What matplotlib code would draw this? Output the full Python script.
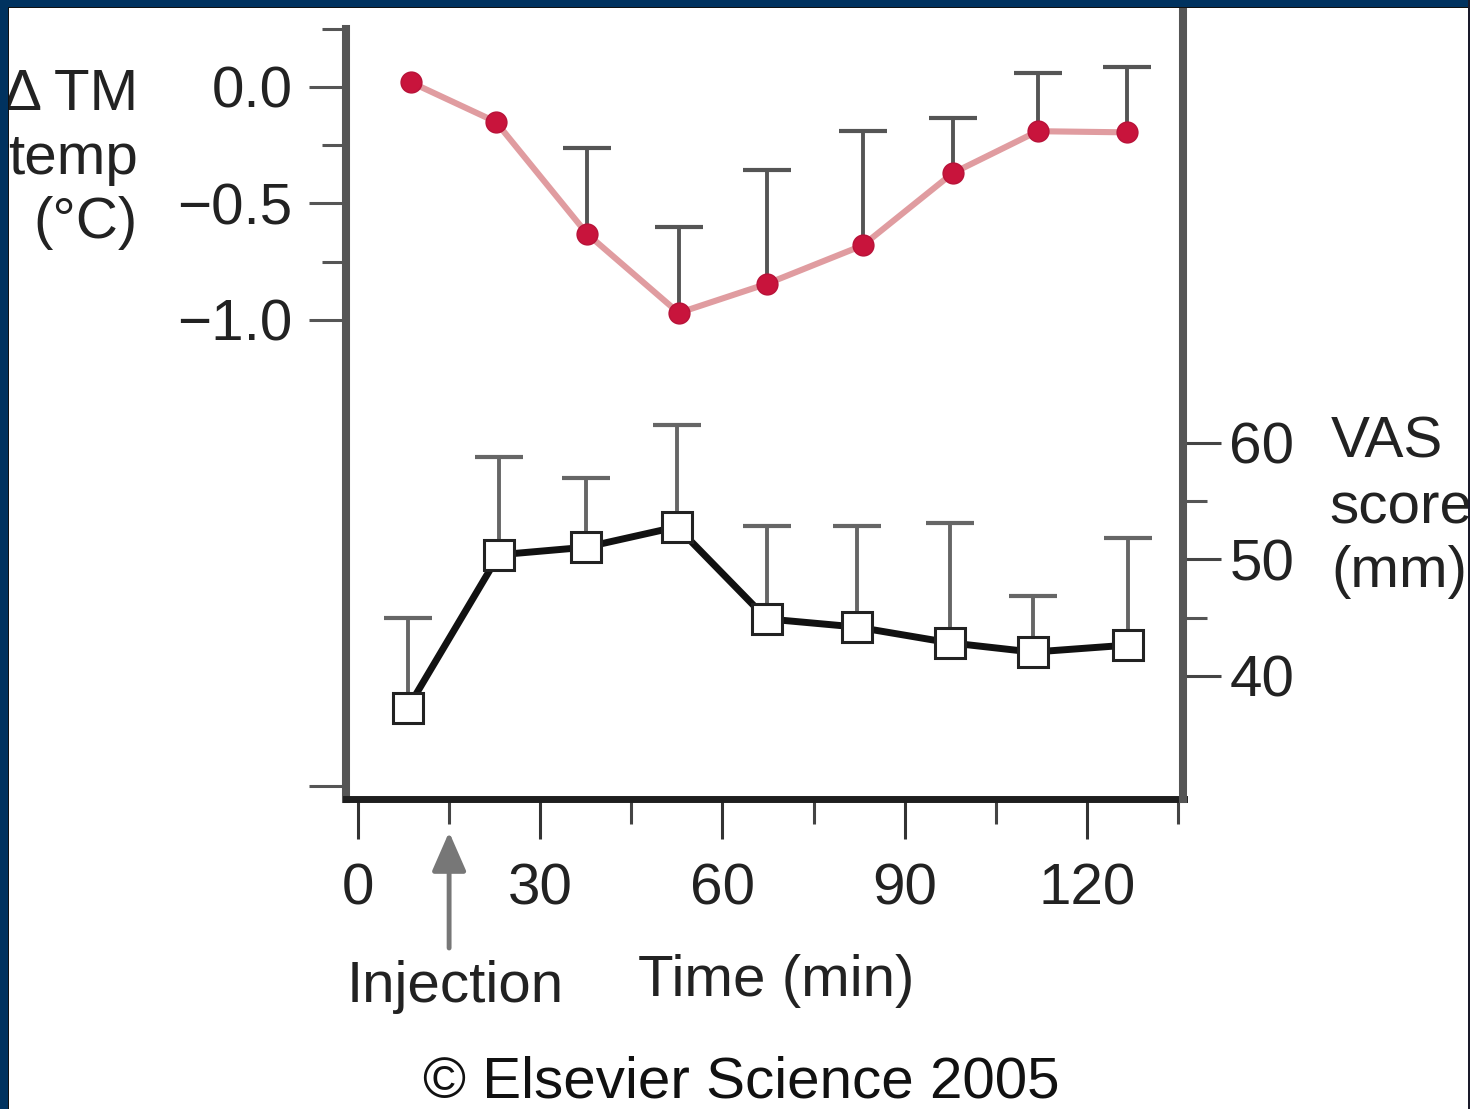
import matplotlib
matplotlib.use("Agg")
import matplotlib.pyplot as plt
from matplotlib.patches import Rectangle

plt.rcParams['font.family'] = ['Liberation Sans', 'DejaVu Sans']

# ---------------- data ----------------
temp_time = [8.7, 22.7, 37.7, 52.8, 67.3, 83.1, 97.9, 111.9, 126.6]
temp_mean = [0.02, -0.15, -0.63, -0.97, -0.845, -0.68, -0.37, -0.19, -0.195]
temp_err_up = [0.0, 0.0, 0.37, 0.37, 0.49, 0.49, 0.235, 0.25, 0.28]

vas_time = [8.2, 23.2, 37.5, 52.5, 67.3, 82.1, 97.4, 111.1, 126.7]
vas_mean = [37.25, 50.4, 51.05, 52.8, 44.9, 44.2, 42.85, 42.05, 42.65]
vas_err_up = [7.7, 8.4, 5.95, 8.75, 8.0, 8.7, 10.3, 4.8, 9.2]

x_major = [0, 30, 60, 90, 120]
x_major_labels = ['0', '30', '60', '90', '120']
x_minor = [15, 45, 75, 105, 135]

temp_major = [0.0, -0.5, -1.0, -3.0]
temp_major_labels = ['0.0', '\u22120.5', '\u22121.0', '']
temp_minor = [0.25, -0.25, -0.75]

vas_major = [40, 50, 60]
vas_major_labels = ['40', '50', '60']
vas_minor = [45, 55]

injection_time = 15

# ---------------- figure ----------------
W, H = 1470, 1109
fig = plt.figure(figsize=(W / 100, H / 100), dpi=100)
fig.patch.set_facecolor('white')

def fx(x):
    return x / W

def fy(y):
    return 1 - y / H

ax_l, ax_r, ax_b, ax_t = 346, 1183.5, 799, 7
ax = fig.add_axes([fx(ax_l), fy(ax_b), (ax_r - ax_l) / W, (ax_b - ax_t) / H])
ax.set_facecolor('none')
ax2 = ax.twinx()

ax.set_xlim(-1.975, 135.9)
ax.set_ylim(-3.056, 0.343)
ax2.set_ylim(29.44, 97.42)

TXT = '#222222'
FS = 42

# spines
for s in ['top', 'right']:
    ax.spines[s].set_visible(False)
for s in ['top', 'left', 'bottom']:
    ax2.spines[s].set_visible(False)
ax.spines['left'].set_color('#555555')
ax.spines['left'].set_linewidth(5.8)
ax.spines['left'].set_bounds(-3.056, 0.25)
ax.spines['bottom'].set_color('#1e1e1e')
ax.spines['bottom'].set_linewidth(5.0)
ax.spines['bottom'].set_capstyle('projecting')
ax2.spines['right'].set_color('#555555')
ax2.spines['right'].set_linewidth(5.8)

# x ticks
ax.set_xticks(x_major)
ax.set_xticklabels(x_major_labels)
ax.set_xticks(x_minor, minor=True)
ax.tick_params(axis='x', which='major', direction='out', length=29, width=2.2,
               color='#333333', labelsize=FS, labelcolor=TXT, pad=17)
ax.tick_params(axis='x', which='minor', direction='out', length=18, width=2.2,
               color='#444444')

# left y ticks
ax.set_yticks(temp_major)
ax.set_yticklabels(temp_major_labels)
ax.set_yticks(temp_minor, minor=True)
ax.tick_params(axis='y', which='major', direction='out', length=26.5, width=2.2,
               color='#555555', labelsize=FS, labelcolor=TXT, pad=12)
ax.tick_params(axis='y', which='minor', direction='out', length=17, width=2.2,
               color='#555555')

# right y ticks
ax2.set_yticks(vas_major)
ax2.set_yticklabels(vas_major_labels)
ax2.set_yticks(vas_minor, minor=True)
ax2.tick_params(axis='y', which='major', direction='out', length=27, width=2.2,
                color='#444444', labelsize=FS, labelcolor=TXT, pad=6)
ax2.tick_params(axis='y', which='minor', direction='out', length=17, width=2.2,
                color='#555555')

# ---------------- temperature series ----------------
t_sel = [i for i, e in enumerate(temp_err_up) if e > 0]
eb = ax.errorbar([temp_time[i] for i in t_sel], [temp_mean[i] for i in t_sel],
                 yerr=[[0] * len(t_sel), [temp_err_up[i] for i in t_sel]],
                 fmt='none', ecolor='#555555', elinewidth=2.8, capsize=17,
                 capthick=3, zorder=2)
caps = eb.lines[1]
caps[0].set_visible(False)
for c in caps[1:]:
    c.set_color('#333333')
ax.plot(temp_time, temp_mean, '-', color='#e09ca0', lw=4.4, zorder=3,
        solid_capstyle='round')
ax.plot(temp_time, temp_mean, 'o', color='#c8143c', ms=15, mec='#b81238',
        mew=1, zorder=4, linestyle='none')

# ---------------- VAS series ----------------
eb2 = ax2.errorbar(vas_time, vas_mean, yerr=[[0] * len(vas_mean), vas_err_up],
                   fmt='none', ecolor='#666666', elinewidth=2.8, capsize=17,
                   capthick=3, zorder=2)
caps2 = eb2.lines[1]
caps2[0].set_visible(False)
for c in caps2[1:]:
    c.set_color('#333333')
ax2.plot(vas_time, vas_mean, '-', color='#111111', lw=5, zorder=3)
ax2.plot(vas_time, vas_mean, 's', mfc='white', mec='#222222', ms=21, mew=2.2,
         zorder=4, linestyle='none')

# ---------------- injection arrow ----------------
ax.annotate('', xy=(injection_time, fy(832)), xycoords=('data', 'figure fraction'),
            xytext=(injection_time, fy(948)), textcoords=('data', 'figure fraction'),
            arrowprops=dict(arrowstyle='-|>,head_length=0.8,head_width=0.35',
                            mutation_scale=30, color='#777777', lw=3.5,
                            shrinkA=0, shrinkB=0),
            annotation_clip=False)

# ---------------- texts ----------------
fig.text(fx(138), fy(110), '\u0394 TM', ha='right', va='baseline', fontsize=FS, color=TXT)
fig.text(fx(138), fy(174), 'temp', ha='right', va='baseline', fontsize=FS, color=TXT)
fig.text(fx(138), fy(238), '(\u00b0C)', ha='right', va='baseline', fontsize=FS, color=TXT)

fig.text(fx(1331), fy(457), 'VAS', ha='left', va='baseline', fontsize=FS, color=TXT)
fig.text(fx(1329), fy(523), 'score', ha='left', va='baseline', fontsize=FS, color=TXT)
fig.text(fx(1331), fy(587), '(mm)', ha='left', va='baseline', fontsize=FS, color=TXT)

fig.text(fx(455), fy(1002), 'Injection', ha='center', va='baseline', fontsize=FS, color=TXT)
fig.text(fx(776), fy(996), 'Time (min)', ha='center', va='baseline', fontsize=FS, color=TXT)
fig.text(fx(741), fy(1098), '\u00a9 Elsevier Science 2005', ha='center', va='baseline',
         fontsize=FS, color='#111111')

# ---------------- frame ----------------
navy = '#00325f'
fig.patches.append(Rectangle((0, 0), fx(8), 1, transform=fig.transFigure,
                             facecolor=navy, edgecolor='none', zorder=10))
fig.patches.append(Rectangle((0, fy(7)), 1, 7 / H, transform=fig.transFigure,
                             facecolor=navy, edgecolor='none', zorder=10))
fig.patches.append(Rectangle((fx(8), 0), 1.2 / W, fy(7), transform=fig.transFigure,
                             facecolor='#111111', edgecolor='none', zorder=10))
fig.patches.append(Rectangle((fx(8), fy(8)), 1, 1.2 / H, transform=fig.transFigure,
                             facecolor='#111111', edgecolor='none', zorder=10))
fig.patches.append(Rectangle((fx(1467.5), 0), 2.5 / W, 1, transform=fig.transFigure,
                             facecolor='#1a1a2a', edgecolor='none', zorder=10))

fig.savefig('out.png', dpi=100, facecolor='white')
